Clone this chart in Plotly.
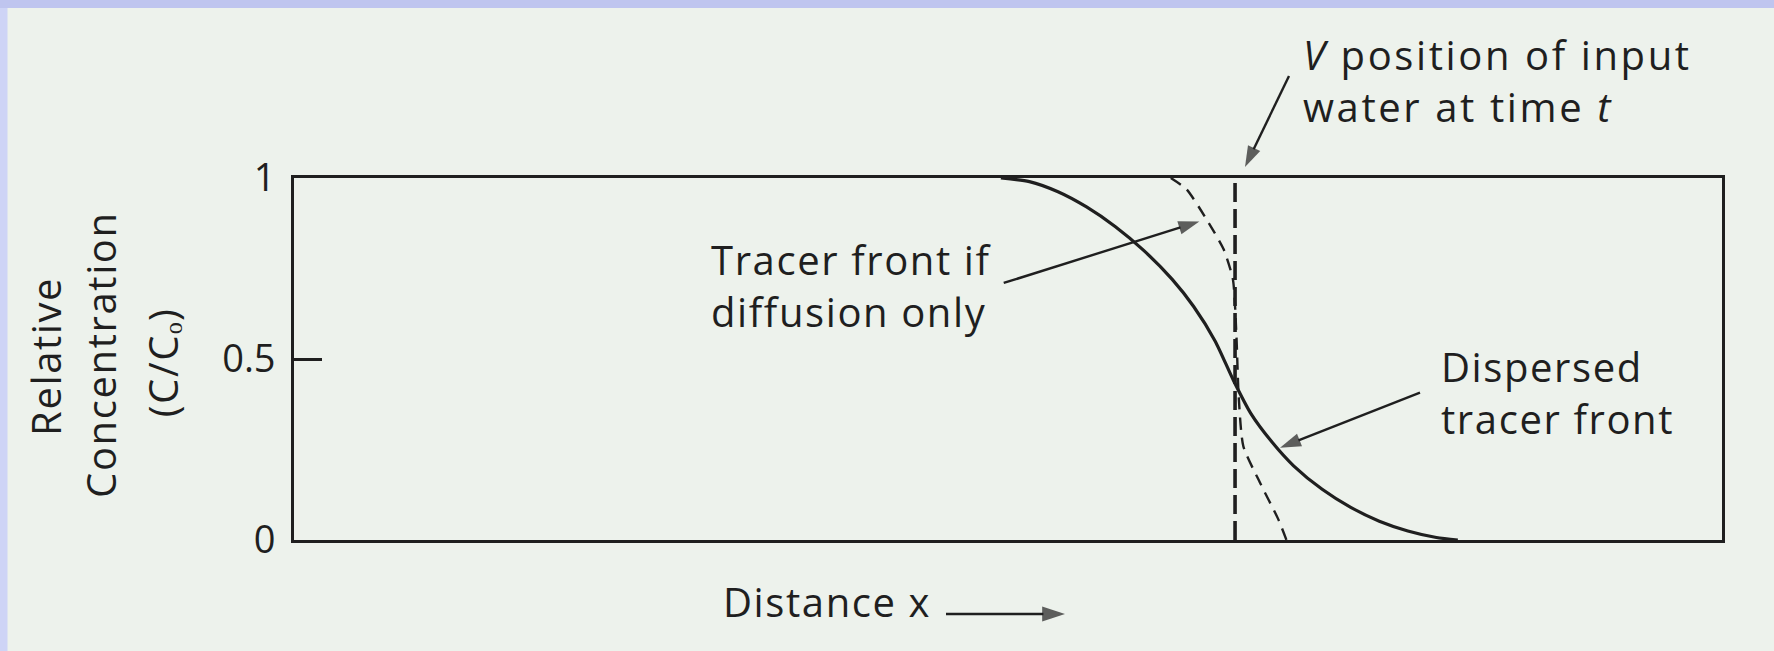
import plotly.graph_objects as go

# ---- data -------------------------------------------------------------
# Dispersed tracer front: relative concentration C/Co along distance x
dispersed_x = [49.5, 51.5, 53.5, 55.5, 57.5, 59.5, 61.5, 63.0, 64.5, 65.8,
               67.0, 68.5, 70.0, 72.0, 74.0, 76.0, 78.0, 80.0, 81.5]
dispersed_c = [1.0, 0.99, 0.962, 0.92, 0.866, 0.80, 0.72, 0.645, 0.55, 0.44,
               0.35, 0.27, 0.205, 0.14, 0.09, 0.052, 0.025, 0.007, 0.0]

# Tracer front if diffusion only
diffusion_x = [61.4, 62.5, 63.9, 65.1, 65.75, 66.0, 66.15, 66.48, 67.65, 68.93, 69.5]
diffusion_c = [1.0, 0.969, 0.886, 0.803, 0.72, 0.56, 0.40, 0.259, 0.158, 0.057, 0.0]

# Position of the input water at time t (sharp front)
input_front_x = [65.9, 65.9]
input_front_c = [0.0, 1.0]

y_tick_values = [0, 0.5, 1]
y_tick_labels = ["0", "0.5", "1"]

# ---- style ------------------------------------------------------------
W, H = 1774, 651
BOX_L, BOX_R, BOX_T, BOX_B = 294, 1722, 178, 540   # plotting box in pixels
INK = "#1f1f1f"
PAGE = "#edf2ec"
FONT = "Open Sans"
TXT = dict(family=FONT, size=40, color=INK)

fig = go.Figure()

fig.add_trace(go.Scatter(
    x=dispersed_x, y=dispersed_c, mode="lines",
    line=dict(color=INK, width=3.2, shape="spline", smoothing=0.7),
    hoverinfo="skip", showlegend=False))

fig.add_trace(go.Scatter(
    x=diffusion_x, y=diffusion_c, mode="lines",
    line=dict(color=INK, width=2.4, dash="12px,8px", shape="spline", smoothing=0.6),
    hoverinfo="skip", showlegend=False))

fig.add_trace(go.Scatter(
    x=input_front_x, y=input_front_c, mode="lines",
    line=dict(color=INK, width=3.6, dash="19px,7px"),
    hoverinfo="skip", showlegend=False))


def arrow(xs, ys, head=22, axes=("x", "y")):
    """Straight callout arrow from xs[0],ys[0] to a filled head at xs[1],ys[1]."""
    fig.add_trace(go.Scatter(
        x=xs, y=ys, xaxis=axes[0], yaxis=axes[1], mode="lines+markers",
        line=dict(color=INK, width=2.4),
        marker=dict(symbol="arrow", size=[0, head], angleref="previous",
                    color=INK, line=dict(width=0)),
        hoverinfo="skip", showlegend=False, cliponaxis=False))


# arrows pointing at the curves (data units)
arrow([49.7, 63.4], [0.71, 0.88])
arrow([78.85, 69.05], [0.407, 0.255])
# arrows outside the box (page pixels on the overlay axes)
arrow([1289, 1245], [76, 167], axes=("x2", "y2"))
arrow([946, 1065], [614, 614], head=24, axes=("x2", "y2"))


def label(text, x, y, **kw):
    # positions in page pixels on the overlay axes
    opts = dict(text=text, x=x, y=y, xref="x2", yref="y2", showarrow=False,
                xanchor="left", yanchor="middle", align="left", font=TXT)
    opts.update(kw)
    fig.add_annotation(**opts)


label("Tracer front if<br>diffusion only", 709, 285.5)
label("Dispersed<br>tracer front", 1439, 392.5)
label("Distance x", 721, 601)
v_index = len(fig.layout.annotations)
label("<i>V</i> position of input<br>water at time <i>t</i>", 1301, 80.5)

# vertical axis title, three stacked lines
for txt, xv, yv in [("Relative", 44.5, 357),
                    ("Concentration", 99.5, 355),
                    ("(C/C\u2092)", 161.5, 363)]:
    label(txt, xv, yv, textangle=-90, xanchor="center", yanchor="middle",
          align="center")

# page frame: light blue edge strips
fig.add_shape(type="rect", xref="paper", yref="paper",
              x0=0, x1=1, y0=1 - 8 / H, y1=1,
              fillcolor="#bfc5ef", line=dict(width=0), layer="below")
fig.add_shape(type="rect", xref="paper", yref="paper",
              x0=0, x1=7.5 / W, y0=0, y1=1 - 8 / H,
              fillcolor="#ced4f6", line=dict(width=0), layer="below")

fig.update_layout(
    width=W, height=H,
    margin=dict(l=0, r=0, t=0, b=0, pad=0),
    paper_bgcolor=PAGE, plot_bgcolor="rgba(0,0,0,0)",
    font=TXT,
    showlegend=False,
    xaxis=dict(domain=[BOX_L / W, BOX_R / W], range=[0, 100],
               showgrid=False, zeroline=False, showticklabels=False, ticks="",
               showline=True, mirror=True, linewidth=2.6, linecolor=INK,
               fixedrange=True, automargin=False),
    yaxis=dict(domain=[1 - BOX_B / H, 1 - BOX_T / H], range=[0, 1],
               showgrid=False, zeroline=False,
               tickvals=y_tick_values, ticktext=y_tick_labels,
               ticks="inside", ticklen=28, tickwidth=2.6, tickcolor=INK,
               ticklabelstandoff=8,
               tickfont=dict(family=FONT, size=38, color=INK),
               showline=True, mirror=True, linewidth=2.6, linecolor=INK,
               fixedrange=True, automargin=False),
    # overlay axes spanning the whole page, in pixels, for callouts
    xaxis2=dict(domain=[0, 1], range=[0, W], anchor="y2", visible=False,
                fixedrange=True, automargin=False),
    yaxis2=dict(domain=[0, 1], range=[H, 0], anchor="x2", visible=False,
                fixedrange=True, automargin=False),
)

spacing_css = (
    "var s=document.createElement('style');"
    "s.textContent='.annotation-text{letter-spacing:1.6px}"
    " .annotation[data-index=\"%d\"] .annotation-text{letter-spacing:2.6px}';"
    "document.head.appendChild(s);" % v_index
)
fig.write_html("out.html", post_script=spacing_css,
               config={"displayModeBar": False})
